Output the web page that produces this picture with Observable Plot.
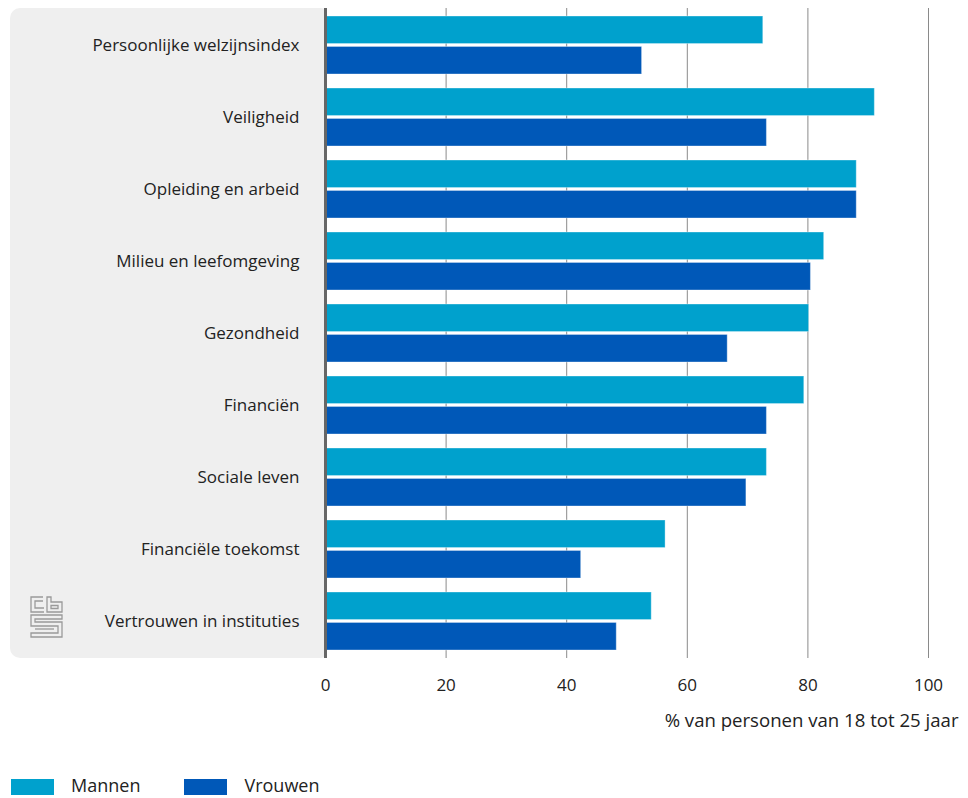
<!DOCTYPE html>
<html>
<head>
<meta charset="utf-8">
<script src="https://cdn.jsdelivr.net/npm/d3@7"></script>
<script src="https://cdn.jsdelivr.net/npm/@observablehq/plot@0.6"></script>
<style>
  html, body { margin: 0; padding: 0; background: #fff; }
  body { width: 968px; height: 798px; overflow: hidden; position: relative; font-family: "Open Sans", Lato, sans-serif; }
  #legend { position: absolute; left: 11px; top: 776px; display: flex; align-items: flex-start; font-size: 18px; line-height: 18px; color: #222; }
  .item { display: flex; align-items: flex-start; margin-right: 44px; }
  .sw { width: 43px; height: 16px; margin-top: 3px; margin-right: 17px; }
</style>
</head>
<body>
<div id="chart"></div>
<div id="legend"></div>
<script>
const categories = [
  "Persoonlijke welzijnsindex",
  "Veiligheid",
  "Opleiding en arbeid",
  "Milieu en leefomgeving",
  "Gezondheid",
  "Financiën",
  "Sociale leven",
  "Financiële toekomst",
  "Vertrouwen in instituties"
];
const mannen  = [72.6, 91.1, 88.1, 82.7, 80.2, 79.4, 73.2, 56.4, 54.1];
const vrouwen = [52.5, 73.2, 88.1, 80.5, 66.7, 73.2, 69.8, 42.4, 48.3];
const seriesNames = ["Mannen", "Vrouwen"];
const seriesColors = ["#00a1cd", "#0058b8"];
const xTicks = [0, 20, 40, 60, 80, 100];
const gridTicks = [20, 40, 60, 80, 100];
const xLabel = "% van personen van 18 tot 25 jaar";

const rows = [];
categories.forEach((c, i) => {
  rows.push({cat: c, sex: "Mannen", v: mannen[i]});
  rows.push({cat: c, sex: "Vrouwen", v: vrouwen[i]});
});

const W = 968, H = 740, mTop = 8, mBottom = 82, mLeft = 325, mRight = 40;
const pIn = 0.196, pOut = 0.11;
const step = (H - mTop - mBottom) / (categories.length - pIn + 2 * pOut);
const bw = step * (1 - pIn);
const half = bw / 2 + 1.5;

const plot = Plot.plot({
  width: W, height: H,
  marginTop: mTop, marginBottom: mBottom, marginLeft: mLeft, marginRight: mRight,
  style: {fontFamily: "'Open Sans', Lato, sans-serif", fontSize: "17px", color: "#222", background: "transparent"},
  x: {domain: [0, 100], ticks: xTicks, label: null},
  y: {domain: categories, paddingInner: pIn, paddingOuter: pOut, label: null},
  color: {domain: seriesNames, range: seriesColors},
  marks: [
    Plot.ruleX(gridTicks, {stroke: "#8a8a8a", strokeWidth: 1}),
    Plot.barX(rows.filter(d => d.sex === "Mannen"), {x: "v", y: "cat", fill: "sex", insetBottom: half, stroke: "#ffffff", strokeOpacity: 0.35, strokeWidth: 1}),
    Plot.barX(rows.filter(d => d.sex === "Vrouwen"), {x: "v", y: "cat", fill: "sex", insetTop: half, stroke: "#ffffff", strokeOpacity: 0.35, strokeWidth: 1}),
    Plot.ruleX([0], {stroke: "#666", strokeWidth: 3}),
    Plot.axisY({tickSize: 0, tickPadding: 26, fontSize: 17, label: null}),
    Plot.axisX({ticks: xTicks, tickSize: 0, tickPadding: 20, fontSize: 17, label: null}),
    Plot.text([xLabel], {frameAnchor: "bottom-right", dx: 30, dy: 68, textAnchor: "end", fontSize: 18.6, fill: "#222"})
  ]
});

// rounded grey panel behind the category labels
const svg = d3.select(plot);
svg.insert("rect", ":first-child")
  .attr("x", 10).attr("y", mTop).attr("width", mLeft - 10 + 6).attr("height", H - mTop - mBottom)
  .attr("rx", 10).attr("fill", "#efefef");
svg.insert("rect", ":nth-child(2)")
  .attr("x", mLeft).attr("y", mTop - 1).attr("width", 10).attr("height", H - mTop - mBottom + 2)
  .attr("fill", "#fff");

// CBS logo approximation
const logo = svg.append("g").attr("fill", "none").attr("stroke", "#9a9a9a").attr("stroke-width", 1.3)
  .attr("transform", "translate(31,597)");
logo.append("path").attr("d", "M12,0 H0 V15 H13 M12,4 H4 V11 H13");
logo.append("path").attr("d", "M16,0 V15 H31 V5 H20 V0 Z M20,8.5 H27 V11.5 H20 Z");
logo.append("path").attr("d", "M0,18 H31 V22 H4 V25 H31 V40 H0 V36 H27 V29 H0 Z");
logo.append("path").attr("d", "M4,32 H23");

document.getElementById("chart").appendChild(plot);

const legend = d3.select("#legend");
seriesNames.forEach((n, i) => {
  const it = legend.append("div").attr("class", "item");
  it.append("div").attr("class", "sw").style("background", seriesColors[i]);
  it.append("span").text(n);
});
</script>
</body>
</html>
